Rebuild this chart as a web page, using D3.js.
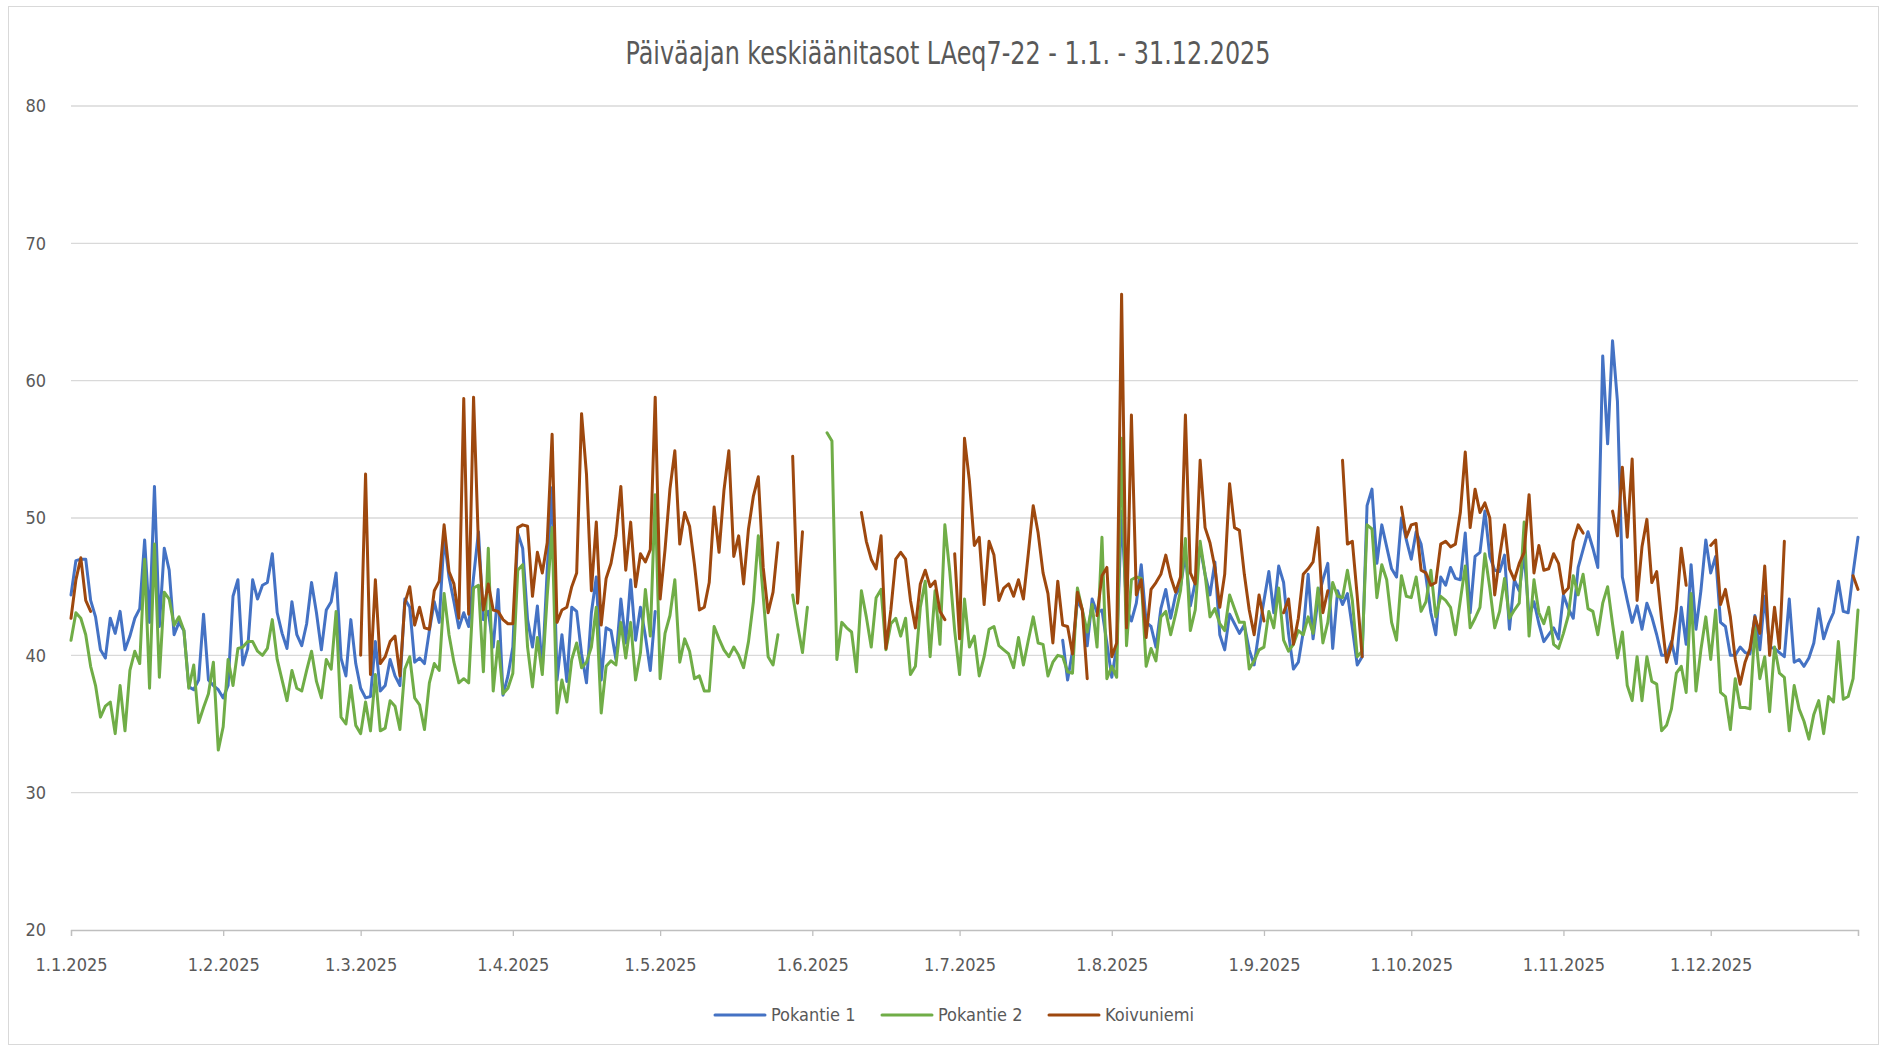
<!DOCTYPE html>
<html><head><meta charset="utf-8">
<script src="https://cdn.jsdelivr.net/npm/d3@7"></script>
<style>
body{margin:0;background:#fff}
svg{display:block}
text{font-family:"Liberation Sans Narrow","DejaVu Sans Condensed",sans-serif;fill:#595959}
</style>
</head><body>
<svg id="chart" width="1887" height="1051"></svg>
<script>
const chartTitle = "Päiväajan keskiäänitasot LAeq7-22 - 1.1. - 31.12.2025";
const firstDay = "1.1.2025";
const lastDay = "31.12.2025";
const monthTicks = ["1.1.2025","1.2.2025","1.3.2025","1.4.2025","1.5.2025","1.6.2025","1.7.2025","1.8.2025","1.9.2025","1.10.2025","1.11.2025","1.12.2025"];
const yTicks = [20,30,40,50,60,70,80];
const seriesNames = ["Pokantie 1","Pokantie 2","Koivuniemi"];
const seriesColors = ["#4472C4","#70AD47","#9E480E"];
const N = null;

// daily values, 1.1. - 31.12.2025 (null = no measurement)
const pokantie1 = [
 44.4,46.9,47.0,47.0,44.0,42.8,40.4,39.8,42.7,41.6,43.2,40.4,41.4,42.7,43.4,48.4,42.4,52.3,42.1,47.8,46.2,41.5,42.4,41.8,37.7,37.5,38.2,43.0,38.2,37.8,37.5,
 36.9,37.8,44.3,45.5,39.3,40.5,45.5,44.1,45.1,45.3,47.4,43.1,41.6,40.5,43.9,41.5,40.7,42.3,45.3,43.1,40.4,43.3,43.9,46.0,39.8,38.5,42.6,39.4,
 37.6,36.9,37.0,41.0,37.4,37.8,39.7,38.5,37.8,44.1,43.5,39.5,39.8,39.4,41.8,43.9,42.4,48.6,45.7,43.9,42.0,43.1,42.1,45.7,49.0,42.6,43.2,40.6,44.8,37.1,38.5,
 40.6,48.9,47.8,42.6,40.6,43.6,38.9,46.2,52.2,38.2,41.5,38.1,43.5,43.2,40.1,38.0,43.1,45.7,38.2,42.0,41.8,39.7,44.1,40.9,45.5,41.1,43.5,41.4,38.9,43.2,
 N,N,N,N,N,N,N,N,N,N,N,N,N,N,N,N,N,N,N,N,N,N,N,N,N,N,N,N,N,N,N,
 N,N,N,N,N,N,N,N,N,N,N,N,N,N,N,N,N,N,N,N,N,N,N,N,N,N,N,N,N,N,
 N,N,N,N,N,N,N,N,N,N,N,N,N,N,N,N,N,N,N,N,N,41.1,38.2,40.3,44.0,43.3,40.7,44.1,43.1,43.3,40.9,
 38.4,40.6,50.5,43.4,42.5,43.8,46.6,42.4,42.1,40.6,43.4,44.8,42.7,44.4,45.0,47.4,43.6,45.3,47.9,45.9,44.4,46.8,41.5,40.4,43.0,42.3,41.6,42.2,40.4,39.3,41.8,
 44.0,46.1,43.1,46.5,45.3,41.6,39.0,39.5,41.7,45.9,41.2,44.1,45.5,46.7,40.5,44.7,43.7,44.5,42.0,39.3,39.9,50.9,52.1,46.7,49.5,47.9,46.3,45.7,50.0,48.4,
 47.0,49.0,48.1,45.7,43.1,41.5,45.7,45.1,46.4,45.6,45.5,48.9,43.1,47.2,47.5,50.5,47.2,46.2,46.1,47.3,41.9,45.5,44.7,47.4,42.8,43.9,42.3,41.0,41.5,42.0,41.2,
 44.4,43.4,42.7,46.4,47.7,49.0,47.8,46.4,61.8,55.4,62.9,58.5,45.7,44.0,42.4,43.6,41.9,43.8,42.8,41.5,40.0,40.0,41.0,39.4,43.5,40.8,46.6,41.9,44.7,48.4,
 46.0,47.2,42.4,42.1,40.0,40.0,40.6,40.2,40.1,42.9,40.4,44.3,40.6,40.5,40.2,39.9,44.1,39.5,39.7,39.2,39.8,40.9,43.4,41.2,42.3,43.1,45.4,43.2,43.1,46.0,48.6
];
const pokantie2 = [
 41.1,43.1,42.7,41.5,39.2,37.8,35.5,36.3,36.6,34.3,37.8,34.5,38.9,40.3,39.4,47.0,37.6,48.1,38.4,44.6,44.1,42.2,42.8,41.8,37.6,39.3,35.1,36.2,37.2,39.5,33.1,
 34.8,39.7,37.8,40.5,40.6,41.0,41.0,40.3,40.0,40.5,42.6,39.7,38.2,36.7,38.9,37.6,37.4,38.9,40.3,38.1,36.9,39.7,39.0,43.2,35.5,35.0,37.8,34.9,
 34.3,36.6,34.5,38.6,34.5,34.7,36.7,36.3,34.6,39.0,39.9,36.9,36.4,34.6,38.0,39.4,38.9,44.5,41.5,39.5,38.0,38.3,38.0,44.9,45.1,38.8,47.8,37.4,41.0,37.2,37.6,
 38.7,46.2,46.6,40.6,37.7,41.3,38.6,44.3,49.3,35.8,38.2,36.6,39.7,40.9,39.1,39.5,40.6,43.5,35.8,39.2,39.6,39.3,42.4,39.8,42.4,38.2,40.2,44.8,41.4,51.7,
 38.3,41.6,42.9,45.5,39.5,41.2,40.3,38.3,38.5,37.4,37.4,42.1,41.2,40.4,39.9,40.6,40.0,39.1,41.0,43.9,48.7,44.3,39.9,39.3,41.5,N,N,44.4,42.2,40.2,43.5,
 N,N,N,56.2,55.6,39.7,42.4,42.0,41.7,38.8,44.7,42.8,40.6,44.2,44.8,40.4,42.3,42.7,41.4,42.7,38.6,39.2,43.5,45.4,39.9,44.7,40.8,49.5,46.1,41.8,
 38.6,44.1,40.6,41.4,38.5,39.9,41.9,42.1,40.7,40.4,40.1,39.1,41.3,39.3,41.1,42.8,40.9,40.8,38.5,39.5,40.0,39.9,38.8,38.7,44.9,43.3,41.7,43.7,40.6,48.6,38.3,
 39.2,38.4,55.8,40.7,45.5,45.7,45.6,39.2,40.5,39.6,42.8,43.2,41.5,43.0,44.7,48.5,41.8,43.3,48.3,45.9,42.8,43.4,42.3,41.8,44.4,43.4,42.4,42.4,39.0,39.6,40.4,
 40.6,43.2,42.0,44.9,41.1,40.3,40.8,41.8,41.5,42.8,41.6,44.9,40.9,42.4,45.3,44.3,44.2,46.2,44.0,39.9,40.3,49.5,49.2,44.2,46.6,45.5,42.4,41.1,45.8,44.3,
 44.2,45.7,43.2,43.9,46.2,42.8,44.3,44.0,43.5,41.5,44.0,46.5,42.0,42.7,43.5,47.4,44.9,42.0,43.2,45.6,42.7,43.3,43.8,49.7,41.4,45.5,43.1,42.3,43.5,40.8,40.5,
 41.6,42.9,45.8,44.4,45.9,43.4,43.2,41.5,43.8,45.0,42.3,39.8,41.7,37.8,36.7,39.9,36.7,39.9,38.1,37.9,34.5,34.9,36.1,38.7,39.2,37.3,44.5,37.4,40.4,42.8,
 39.7,43.3,37.3,37.0,34.6,38.3,36.2,36.2,36.1,42.0,38.3,39.9,35.9,40.6,38.7,38.4,34.5,37.8,36.1,35.2,33.9,35.7,36.7,34.3,37.0,36.6,41.0,36.8,37.0,38.3,43.3
];
const koivuniemi = [
 42.7,45.5,47.1,44.0,43.2,N,N,N,N,N,N,N,N,N,N,N,N,N,N,N,N,N,N,N,N,N,N,N,N,N,N,
 N,N,N,N,N,N,N,N,N,N,N,N,N,N,N,N,N,N,N,N,N,N,N,N,N,N,N,N,
 40.0,53.2,38.6,45.5,39.4,39.9,41.0,41.4,38.5,43.8,45.0,42.2,43.5,42.0,41.9,44.7,45.4,49.5,46.1,45.2,42.7,58.7,43.0,58.8,48.0,43.3,45.2,43.3,43.2,42.6,42.3,
 42.3,49.3,49.5,49.4,44.3,47.5,46.0,48.2,56.1,42.4,43.3,43.5,45.0,46.0,57.6,53.2,44.7,49.7,42.2,45.6,46.7,48.7,52.3,46.2,49.7,45.0,47.4,46.8,47.7,58.8,
 44.1,47.7,52.1,54.9,48.1,50.4,49.4,46.6,43.3,43.5,45.3,50.8,47.5,52.0,54.9,47.2,48.7,45.2,49.2,51.6,53.0,46.4,43.1,44.6,48.2,N,N,54.5,43.8,49.0,N,
 N,N,N,N,N,N,N,N,N,N,50.4,48.3,47.0,46.3,48.7,40.5,43.3,47.0,47.5,47.0,44.0,42.0,45.2,46.2,45.0,45.4,43.2,42.6,N,47.4,
 41.2,55.8,52.7,48.0,48.6,43.7,48.3,47.3,44.0,44.9,45.2,44.3,45.5,44.1,47.4,50.9,48.9,46.0,44.5,40.9,45.4,42.2,42.1,40.1,44.6,43.3,38.3,N,42.9,45.8,46.4,
 39.9,40.9,66.3,42.0,57.5,44.4,45.5,41.3,44.8,45.3,45.9,47.3,45.7,44.6,45.7,57.5,46.0,45.2,54.2,49.3,48.2,46.4,43.5,45.9,52.5,49.3,49.1,45.9,43.3,41.5,44.4,
 42.5,N,N,N,43.1,44.1,40.8,42.7,45.9,46.3,46.8,49.3,43.1,44.7,N,N,54.2,48.1,48.3,44.3,39.9,N,N,N,N,N,N,N,50.8,48.6,
 49.5,49.6,46.2,46.0,45.1,45.3,48.1,48.3,47.9,48.1,50.4,54.8,49.3,52.1,50.4,51.1,50.0,44.4,47.2,49.5,46.3,45.5,46.7,47.5,51.7,46.0,48.0,46.2,46.3,47.4,46.7,
 44.5,44.9,48.3,49.5,48.9,N,N,N,N,N,50.5,48.7,53.7,48.6,54.3,44.0,47.9,49.9,45.3,46.1,42.6,39.5,40.7,43.3,47.8,45.1,N,N,N,N,
 48.0,48.4,43.7,44.8,42.8,39.7,37.9,39.5,40.5,42.8,41.6,46.5,40.0,43.5,40.5,48.3,N,N,N,N,N,N,N,N,N,N,N,N,N,45.8,44.8
];

const parseDay = s => { const [d,m,y] = s.split(".").map(Number); return new Date(Date.UTC(y, m-1, d)); };
const t0 = parseDay(firstDay), t1 = parseDay(lastDay);
const dayDate = i => d3.utcDay.offset(t0, i);

const svg = d3.select("#chart");
const W = 1887, H = 1051;
const plot = {left: 71, right: 1858, top: 106, bottom: 930};
const FONT = '"Liberation Sans Narrow","DejaVu Sans Condensed",sans-serif';

svg.append("rect").attr("x", 8.5).attr("y", 6.5).attr("width", W - 17).attr("height", H - 13)
  .attr("fill", "#fff").attr("stroke", "#d9d9d9").attr("stroke-width", 1);

const x = d3.scaleUtc().domain([t0, t1]).range([plot.left, plot.right]);
const y = d3.scaleLinear().domain([20, 80]).range([plot.bottom, plot.top]);

// gridlines
svg.append("g").selectAll("line").data(yTicks.filter(v => v > 20)).join("line")
  .attr("x1", plot.left).attr("x2", plot.right)
  .attr("y1", d => y(d)).attr("y2", d => y(d))
  .attr("stroke", "#d9d9d9").attr("stroke-width", 1.3);

// y labels
svg.append("g").selectAll("text").data(yTicks).join("text")
  .attr("x", 46).attr("y", d => y(d)).attr("dy", "0.35em")
  .attr("text-anchor", "end").attr("font-size", 18).text(d => d);

// x axis
const xAxis = d3.axisBottom(x).tickValues(monthTicks.map(parseDay).concat([t1]))
  .tickFormat((d, i) => i < monthTicks.length ? monthTicks[i] : "").tickSize(6).tickPadding(22);
const gx = svg.append("g").attr("transform", `translate(0,${plot.bottom})`).call(xAxis);
gx.select(".domain").attr("stroke", "#bfbfbf").attr("stroke-width", 1.3);
gx.selectAll(".tick line").attr("stroke", "#bfbfbf").attr("stroke-width", 1.3);
gx.selectAll(".tick text").attr("font-size", 18).attr("fill", "#595959").attr("font-family", FONT);

// lines
const allSeries = [pokantie1, pokantie2, koivuniemi];
const line = d3.line().defined(d => d.v != null).x(d => x(d.t)).y(d => y(d.v));
allSeries.forEach((vals, k) => {
  const pts = vals.map((v, i) => ({t: dayDate(i), v}));
  svg.append("path").datum(pts).attr("d", line)
    .attr("fill", "none").attr("stroke", seriesColors[k]).attr("stroke-width", 3)
    .attr("stroke-linejoin", "round").attr("stroke-linecap", "round");
});

// title
svg.append("text").attr("x", 948).attr("y", 53).attr("dy", "0.35em")
  .attr("text-anchor", "middle").attr("font-size", 32)
  .attr("textLength", 645).attr("lengthAdjust", "spacingAndGlyphs")
  .text(chartTitle);

// legend
const legendX = [715, 882, 1049];
const lg = svg.append("g");
seriesNames.forEach((name, k) => {
  lg.append("line").attr("x1", legendX[k]).attr("x2", legendX[k] + 50)
    .attr("y1", 1015).attr("y2", 1015)
    .attr("stroke", seriesColors[k]).attr("stroke-width", 3).attr("stroke-linecap", "round");
  lg.append("text").attr("x", legendX[k] + 56).attr("y", 1015).attr("dy", "0.35em")
    .attr("font-size", 18).text(name);
});
</script>
</body></html>
